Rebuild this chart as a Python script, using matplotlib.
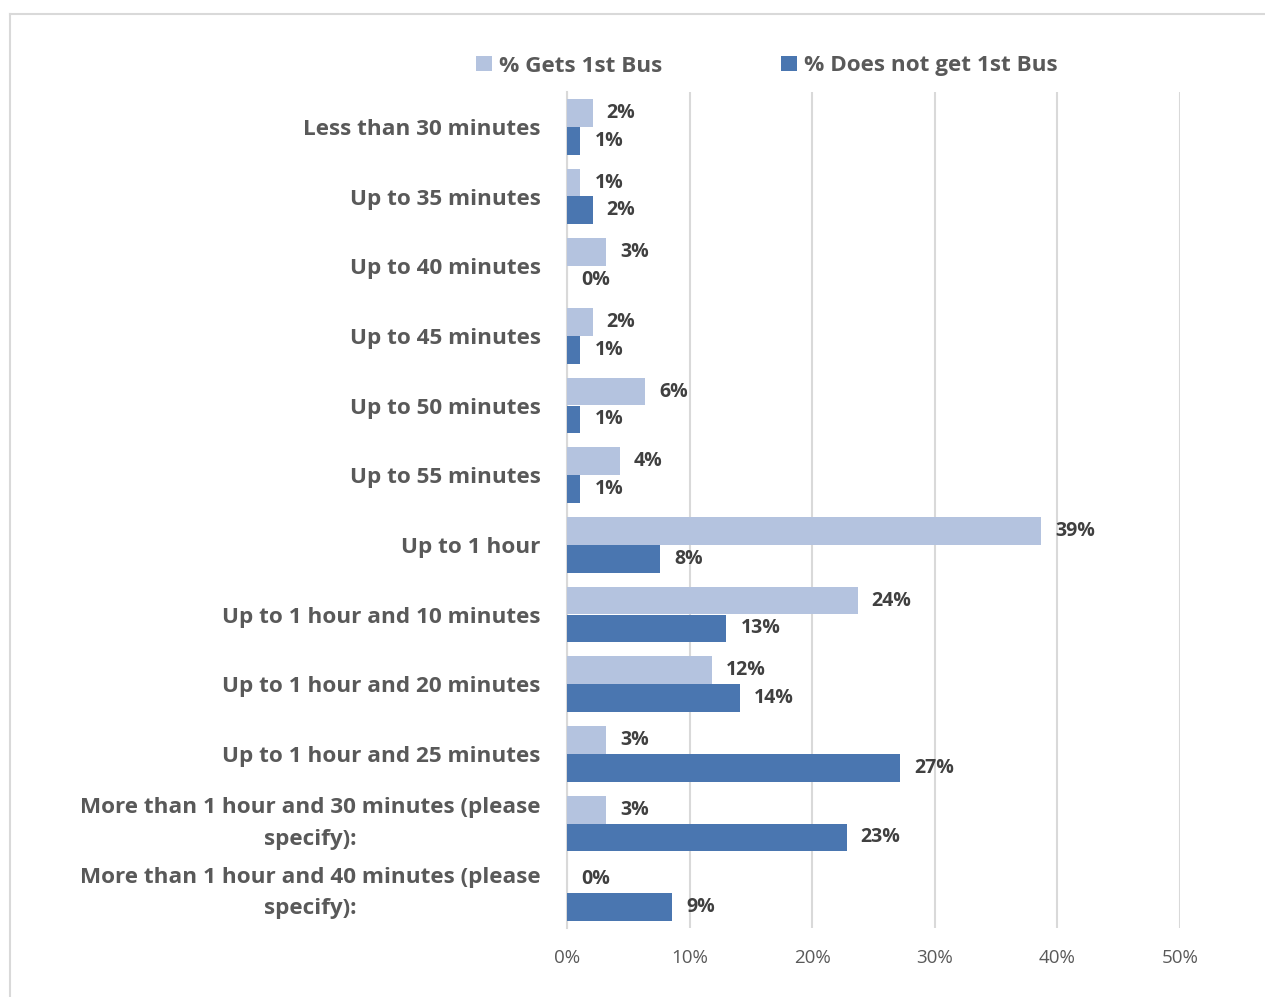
import matplotlib.pyplot as plt
import numpy as np
from matplotlib.lines import Line2D

# Data (percent)
categories = ["Less than 30 minutes", "Up to 35 minutes", "Up to 40 minutes",
              "Up to 45 minutes", "Up to 50 minutes", "Up to 55 minutes",
              "Up to 1 hour", "Up to 1 hour and 10 minutes",
              "Up to 1 hour and 20 minutes", "Up to 1 hour and 25 minutes",
              "More than 1 hour and 30 minutes (please\nspecify):",
              "More than 1 hour and 40 minutes (please\nspecify):"]
gets_first = [2.1, 1.1, 3.2, 2.1, 6.4, 4.3, 38.7, 23.7, 11.8, 3.2, 3.2, 0.0]
not_first = [1.1, 2.1, 0.0, 1.1, 1.1, 1.1, 7.6, 13.0, 14.1, 27.2, 22.8, 8.6]
series_names = ["% Gets 1st Bus", "% Does not get 1st Bus"]

light = "#B4C3DF"
dark = "#4A76B0"
font = "Open Sans"

fig = plt.figure(figsize=(12.65, 9.97), dpi=100)
ax = fig.add_axes([567 / 1265, 1 - 928 / 997, (1180 - 567) / 1265, (928 - 92) / 997])

y = np.arange(len(categories))
h = 0.4
b1 = ax.barh(y - h / 2, gets_first, h, color=light, label=series_names[0], zorder=3)
b2 = ax.barh(y + h / 2, not_first, h, color=dark, label=series_names[1], zorder=3)

# Data labels
for bars, vals in [(b1, gets_first), (b2, not_first)]:
    for bar, v in zip(bars, vals):
        ax.annotate(f"{v:.0f}%", (v, bar.get_y() + bar.get_height() / 2),
                    xytext=(14, 0), textcoords="offset pixels",
                    ha="left", va="center", fontsize=14, fontweight="bold",
                    color="#404040", family=font)

ax.set_xlim(0, 50)
ax.set_ylim(len(categories) - 0.5, -0.5)
ax.set_xticks(np.arange(0, 51, 10))
ax.set_xticklabels([f"{t}%" for t in range(0, 51, 10)], family=font, fontsize=13.5, color="#595959")
ax.set_yticks(y)
ax.set_yticklabels(categories, family=font, fontsize=16.2, fontweight="bold", color="#595959",
                   multialignment="center", linespacing=1.65)
# two-line labels: center the whole block on the category
for lbl in ax.get_yticklabels():
    if "\n" in lbl.get_text():
        lbl.set_va("center")
ax.tick_params(axis="both", length=0)
ax.tick_params(axis="y", pad=19)
ax.tick_params(axis="x", pad=15)
ax.grid(axis="x", color="#D9D9D9", linewidth=1.5, zorder=0)
for s in ["top", "right", "bottom"]:
    ax.spines[s].set_visible(False)
ax.spines["left"].set_color("#D9D9D9")
ax.spines["left"].set_linewidth(1.5)

leg = fig.legend(handles=[b1, b2], loc="center", bbox_to_anchor=(767 / 1265, 1 - 66 / 997),
                 ncol=2, frameon=False, columnspacing=5.3, handlelength=0.7, handleheight=0.7,
                 handletextpad=0.3,
                 prop={"family": font, "size": 16.2, "weight": "bold"})
for t in leg.get_texts():
    t.set_color("#595959")

# Chart border
fig.add_artist(Line2D([10 / 1265, 1], [1 - 14 / 997, 1 - 14 / 997], color="#D9D9D9", linewidth=1.5,
                      transform=fig.transFigure))
fig.add_artist(Line2D([10 / 1265, 10 / 1265], [0, 1 - 14 / 997], color="#D9D9D9", linewidth=1.5,
                      transform=fig.transFigure))

fig.savefig("out.png", dpi=100)
